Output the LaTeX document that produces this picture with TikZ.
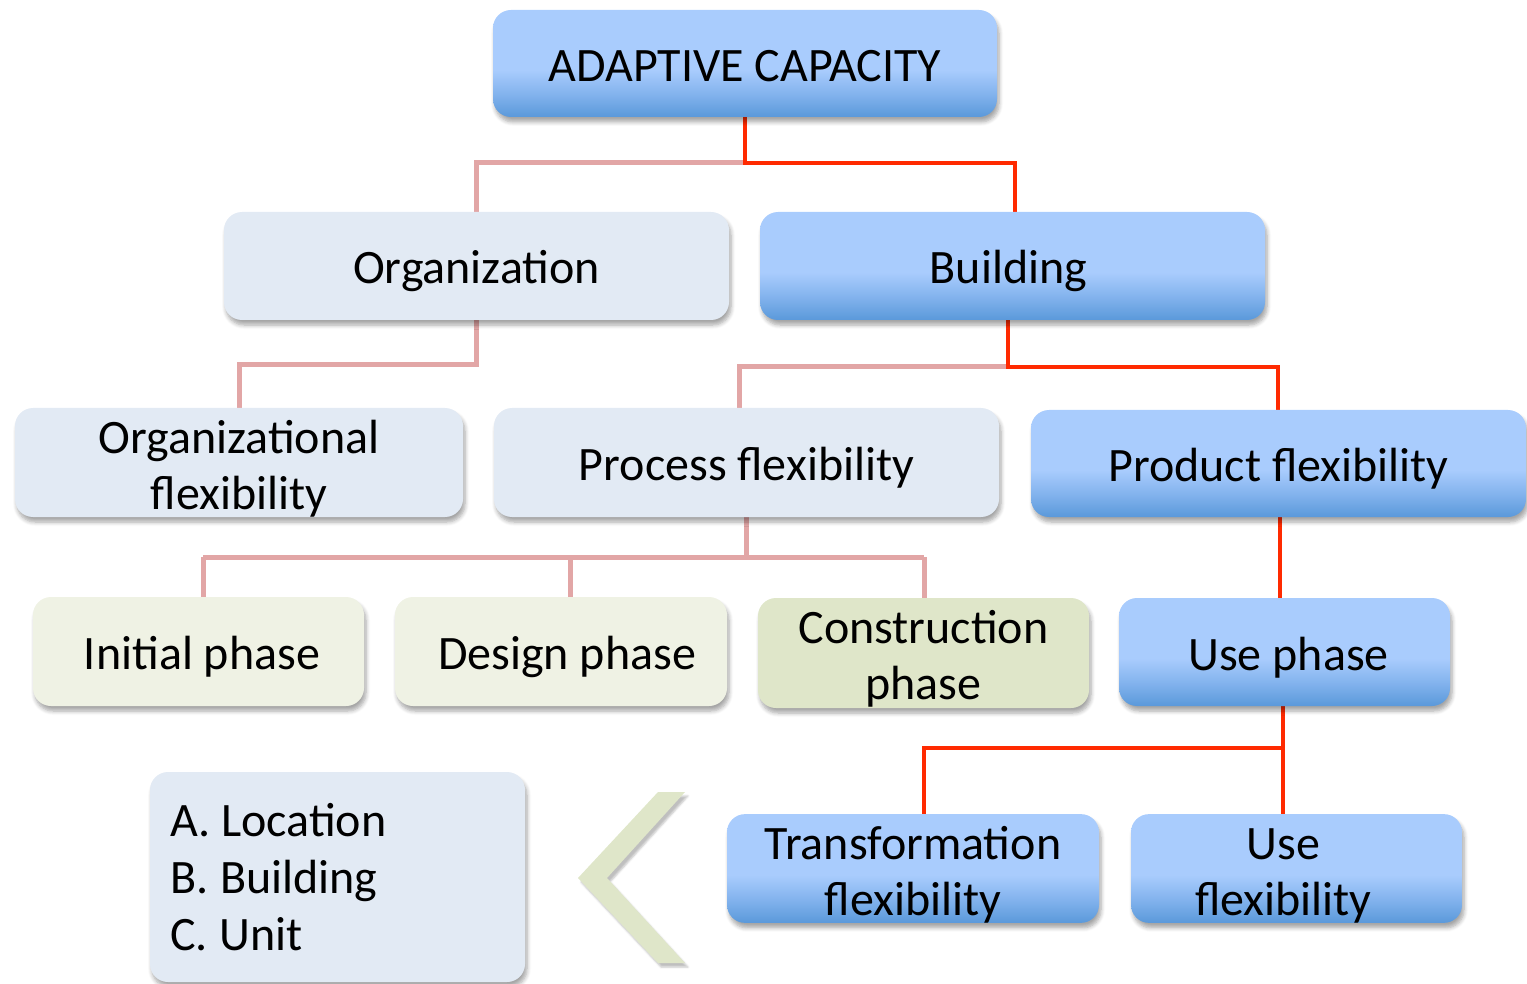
\documentclass[tikz,border=0pt]{standalone}
\usepackage{fontspec}
\setmainfont{Carlito}
\usetikzlibrary{shadows.blur}
\definecolor{btop}{HTML}{A9CCFD}
\definecolor{bmid}{HTML}{80B1EC}
\definecolor{bbot}{HTML}{5A99DA}
\definecolor{lightfill}{HTML}{E2EAF4}
\definecolor{phasefill}{HTML}{EFF2E4}
\definecolor{confill}{HTML}{DFE6C9}
\definecolor{redline}{HTML}{FF2A00}
\definecolor{pinkline}{HTML}{E2A6A6}
\pgfdeclareverticalshading{bluegrad}{100bp}{color(0bp)=(bbot); color(25bp)=(bbot); color(35bp)=(bmid); color(47bp)=(btop); color(100bp)=(btop)}
\newcommand{\firstline}{\rule{0pt}{45pt}}
\tikzset{
  boxbase/.style={rectangle, rounded corners=18pt, inner sep=0pt, align=center,
    font=\fontsize{48}{56}\selectfont,
    blur shadow={shadow xshift=2pt, shadow yshift=-5pt, shadow opacity=35, shadow blur steps=6, shadow blur radius=4pt}},
  oneline/.style={text height=40pt, text depth=4pt},
  bluebox/.style={boxbase, shading=bluegrad},
  lightbox/.style={boxbase, fill=lightfill},
  phasebox/.style={boxbase, fill=phasefill},
  conbox/.style={boxbase, fill=confill},
  redcon/.style={draw=redline, line width=4.5pt},
  pinkcon/.style={draw=pinkline, line width=5pt},
}
\begin{document}
\frenchspacing
\begin{tikzpicture}[x=1pt,y=-1pt]
\useasboundingbox (0,0) rectangle (1527,984);
% junction coordinates
\coordinate (j1) at (745,163);
\coordinate (j2) at (476,365);
\coordinate (j3) at (1008,367);
\coordinate (j4) at (746,557);
\coordinate (j5) at (1283,748);
% connectors (drawn first, under boxes)
\draw[pinkcon] (j1) -| (476,214);
\draw[redcon] (745,115) -- (j1) -| (1015,214);
\draw[pinkcon] (476,318) -- (j2) -| (239,410);
\draw[pinkcon] (j3) -| (739,410);
\draw[redcon] (1008,318) -- (j3) -| (1278,412);
\draw[pinkcon] (746,515) -- (j4);
\draw[pinkcon] (203,557) -- (924,557);
\draw[pinkcon] (203,557) -- (203,599);
\draw[pinkcon] (570,557) -- (570,599);
\draw[pinkcon] (924,557) -- (924,600);
\draw[redcon] (1280,515) -- (1280,600);
\draw[redcon] (1283,704) -- (j5) -| (924,817);
\draw[redcon] (j5) -- (1283,817);
% boxes
\node[bluebox, oneline, minimum width=504pt, minimum height=107pt] (ac) at (745,63.5) {ADAPTIVE CAPACITY};
\node[lightbox, oneline, minimum width=505pt, minimum height=108pt] (org) at (476.5,266) {Organization};
\node[bluebox, oneline, minimum width=505pt, minimum height=108pt] (bld) at (1012.5,266) {Building\hspace*{8pt}};
\node[lightbox, minimum width=448pt, minimum height=109pt] (ofl) at (239,462.5) {\firstline Organizational\\flexibility};
\node[lightbox, oneline, minimum width=505pt, minimum height=109pt] (pfl) at (746.5,462.5) {Process flexibility};
\node[bluebox, oneline, minimum width=495pt, minimum height=107pt] (prf) at (1278.5,463.5) {Product flexibility};
\node[phasebox, oneline, minimum width=331pt, minimum height=109pt] (ini) at (198.5,651.5) {\hspace*{7pt}Initial phase};
\node[phasebox, oneline, minimum width=332pt, minimum height=109pt] (des) at (561,651.5) {\hspace*{12pt}Design phase};
\node[conbox, minimum width=331pt, minimum height=110pt] (con) at (923.5,653) {\firstline Construction\\phase};
\node[bluebox, oneline, minimum width=331pt, minimum height=108pt] (use) at (1284.5,652) {\hspace*{8pt}Use phase};
\node[bluebox, minimum width=372pt, minimum height=107pt] (tra) at (913,868.5) {\firstline Transformation\\flexibility};
\node[bluebox, minimum width=331pt, minimum height=107pt] (ufl) at (1296.5,868.5) {\firstline Use\hspace*{26pt}\\flexibility\hspace*{26pt}};
\node[lightbox, minimum width=375pt, minimum height=210pt, align=left, text width=335pt, font=\fontsize{48}{57}\selectfont] (leg) at (337.5,877) {A.\kern-5pt\ Location\\B.\kern-4pt\ Building\\C.\kern-4pt\ Unit};
% chevron
\fill[confill, blur shadow={shadow xshift=3pt, shadow yshift=-4pt, shadow opacity=25}] (658,792) -- (685,792) -- (607,878) -- (685,963) -- (658,963) -- (578,878) -- cycle;
\end{tikzpicture}
\end{document}
